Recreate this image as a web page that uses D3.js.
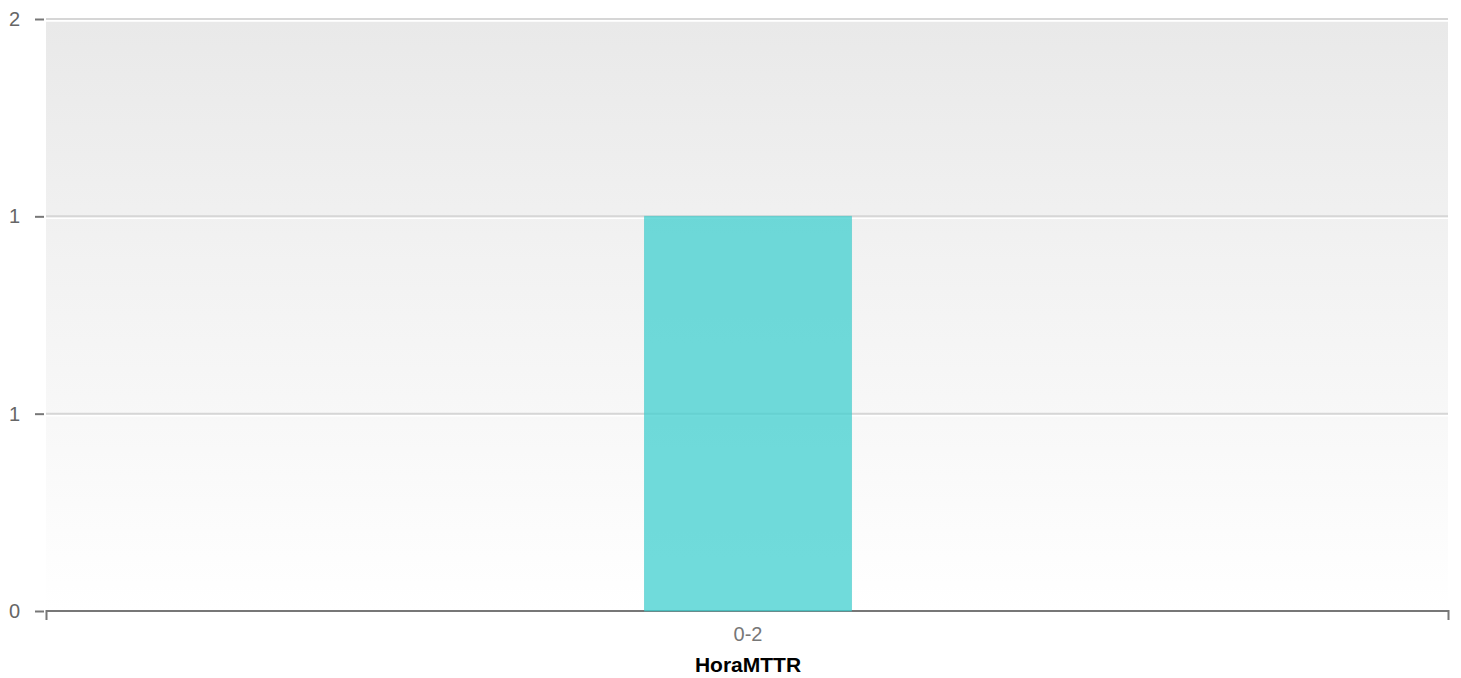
<!DOCTYPE html>
<html>
<head>
<meta charset="utf-8">
<script src="https://cdn.jsdelivr.net/npm/d3@7"></script>
<style>
  body { margin: 0; background: #fff; }
  svg { display: block; font-family: "Liberation Sans", Arial, sans-serif; }
</style>
</head>
<body>
<script>
// Chart data
var categories = ["0-2"];
var values = [1];
var yTicks = [0, 0.5, 1, 1.5];
var xTitle = "HoraMTTR";

var width = 1461, height = 678;
var margin = { top: 19, right: 11, bottom: 67, left: 46 };
var innerW = width - margin.left - margin.right;
var innerH = height - margin.top - margin.bottom;

var svg = d3.select("body").append("svg")
    .attr("width", width)
    .attr("height", height);

// Background gradient
var defs = svg.append("defs");
var grad = defs.append("linearGradient")
    .attr("id", "bg")
    .attr("x1", 0).attr("y1", 0).attr("x2", 0).attr("y2", 1);
grad.append("stop").attr("offset", "0%").attr("stop-color", "#e9e9e9");
grad.append("stop").attr("offset", "100%").attr("stop-color", "#ffffff");

var g = svg.append("g")
    .attr("transform", "translate(" + margin.left + "," + margin.top + ")");

var x = d3.scaleBand()
    .domain(categories)
    .range([0, innerW])
    .padding(0.743);

var y = d3.scaleLinear()
    .domain([0, 1.5])
    .range([innerH, 0]);

g.append("rect")
    .attr("x", 0)
    .attr("y", 2)
    .attr("width", innerW - 2)
    .attr("height", innerH - 2)
    .attr("fill", "url(#bg)");

// Grid lines (grey line with a white line under it)
yTicks.forEach(function(t) {
  if (t === 0) return;
  g.append("line")
    .attr("x1", 0).attr("x2", innerW - 2)
    .attr("y1", y(t) + 2).attr("y2", y(t) + 2)
    .attr("stroke", "#ffffff")
    .attr("stroke-width", 1.5);
  g.append("line")
    .attr("x1", 0).attr("x2", innerW - 2)
    .attr("y1", y(t)).attr("y2", y(t))
    .attr("stroke", "#d6d6d6")
    .attr("stroke-width", 2);
});

// Y axis
var yAxis = g.append("g")
    .call(d3.axisLeft(y)
      .tickValues(yTicks)
      .tickSize(12)
      .tickPadding(14)
      .tickFormat(function(d) { return Math.round(d); }));
yAxis.select(".domain").remove();
yAxis.selectAll(".tick line")
    .attr("x1", -11).attr("x2", -2)
    .attr("stroke", "#777")
    .attr("stroke-width", 2);
yAxis.selectAll(".tick text")
    .attr("fill", "#666")
    .style("font-size", "20px");

// X axis
var xAxis = g.append("g")
    .attr("transform", "translate(0," + innerH + ")")
    .call(d3.axisBottom(x).tickSize(0).tickPadding(16));
xAxis.select(".domain")
    .attr("d", "M0.5,9V0H" + (innerW - 1.5) + "V9")
    .attr("stroke", "#777")
    .attr("stroke-width", 2)
    .attr("fill", "none");
xAxis.selectAll(".tick text")
    .attr("fill", "#777")
    .style("font-size", "20px");

g.append("text")
    .attr("x", x(categories[0]) + x.bandwidth() / 2)
    .attr("y", innerH + 61)
    .attr("text-anchor", "middle")
    .attr("font-weight", "bold")
    .attr("font-size", "21px")
    .attr("fill", "#000")
    .text(xTitle);

// Bars
g.selectAll(".bar")
    .data(values)
    .enter()
    .append("rect")
    .attr("class", "bar")
    .attr("x", function(d, i) { return x(categories[i]); })
    .attr("y", function(d) { return y(d); })
    .attr("width", x.bandwidth())
    .attr("height", function(d) { return innerH - y(d); })
    .attr("fill", "rgba(64, 207, 207, 0.75)")
    .attr("stroke", "rgba(64, 200, 200, 0.5)")
    .attr("stroke-width", 1);
</script>
</body>
</html>
